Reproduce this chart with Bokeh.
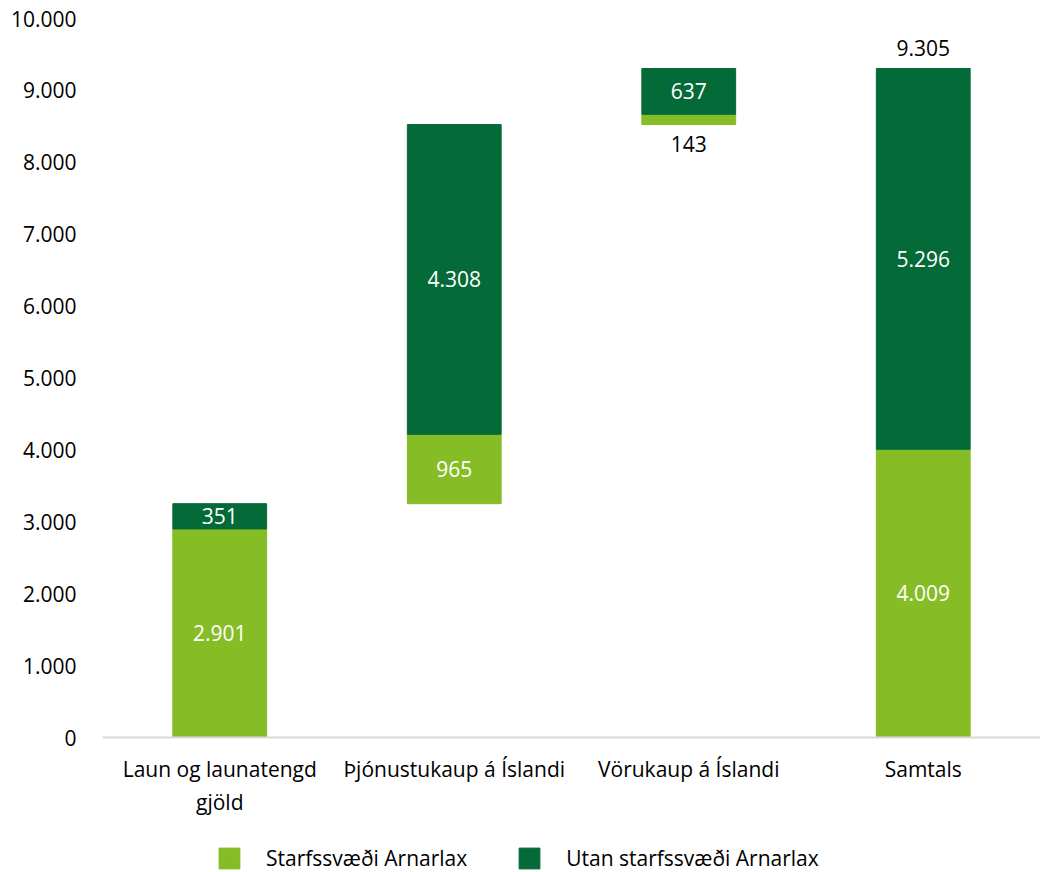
from bokeh.plotting import figure
from bokeh.layouts import column
from bokeh.models import ColumnDataSource, FactorRange, Legend, LegendItem, Range1d, FixedTicker, CustomJSTickFormatter
from bokeh.embed import file_html
from bokeh.resources import INLINE
from bokeh.core.properties import value

categories = ["Laun og launatengd\ngjöld", "Þjónustukaup á Íslandi", "Vörukaup á Íslandi", "Samtals"]
innan = [2901, 965, 143, 4009]
utan = [351, 4308, 637, 5296]
series_names = ["Starfssvæði Arnarlax", "Utan starfssvæði Arnarlax"]
y_ticks = [0, 1000, 2000, 3000, 4000, 5000, 6000, 7000, 8000, 9000, 10000]

LIGHT = "#86BC25"
DARK = "#046A38"
FONT = "Open Sans"
FS = "21px"

def fmt(v):
    return f"{v:,}".replace(",", ".")

# waterfall bases
base = []
run = 0
for i in range(len(categories)):
    if i == len(categories) - 1:
        base.append(0)
    else:
        base.append(run)
        run += innan[i] + utan[i]
l_bot = base
l_top = [b + v for b, v in zip(base, innan)]
d_bot = l_top
d_top = [b + v for b, v in zip(l_top, utan)]

p = figure(x_range=FactorRange(*categories, range_padding=0), y_range=Range1d(0, 10000),
           width=1040, height=843, output_backend="svg", toolbar_location=None,
           min_border_left=102, min_border_right=0, min_border_top=18, min_border_bottom=106)
p.outline_line_color = None
p.grid.visible = False
p.background_fill_color = "white"

src = ColumnDataSource(dict(x=categories, lb=l_bot, lt=l_top, db=d_bot, dt=d_top))
r1 = p.vbar(x="x", bottom="lb", top="lt", width=0.4, color=LIGHT, source=src)
r2 = p.vbar(x="x", bottom="db", top="dt", width=0.4, color=DARK, source=src)

# labels
lx, ly, lt, lc = [], [], [], []
for i, c in enumerate(categories):
    if innan[i] < 400:
        lx.append(c); ly.append(l_bot[i] - 270); lt.append(fmt(innan[i])); lc.append("black")
    else:
        lx.append(c); ly.append((l_bot[i] + l_top[i]) / 2); lt.append(fmt(innan[i])); lc.append("white")
    lx.append(c); ly.append((d_bot[i] + d_top[i]) / 2); lt.append(fmt(utan[i])); lc.append("white")
lx.append(categories[-1]); ly.append(d_top[-1] + 290); lt.append(fmt(d_top[-1])); lc.append("black")
p.text(x=lx, y=ly, text=lt, text_color=lc, text_align="center", text_baseline="middle",
       text_font=value(FONT), text_font_size=FS)

p.yaxis.ticker = FixedTicker(ticks=y_ticks)
p.yaxis.formatter = CustomJSTickFormatter(code="return tick.toLocaleString('de-DE');")
p.yaxis.axis_line_color = None
p.yaxis.major_tick_line_color = None
p.yaxis.minor_tick_line_color = None
p.yaxis.major_label_text_font = FONT
p.yaxis.major_label_text_font_size = FS
p.yaxis.major_label_text_color = "black"
p.yaxis.major_label_standoff = 20

p.xaxis.axis_line_color = "#D9D9D9"
p.xaxis.axis_line_width = 2
p.xaxis.major_tick_line_color = None
p.xaxis.minor_tick_line_color = None
p.xaxis.major_label_text_font = FONT
p.xaxis.major_label_text_font_size = FS
p.xaxis.major_label_text_color = "black"
p.xaxis.major_label_standoff = 11

# legend in its own strip below (same data, drawn outside this strip's visible range)
pl = figure(width=1040, height=29, x_range=FactorRange(*categories), y_range=Range1d(20000, 20001),
            output_backend="svg", toolbar_location=None, x_axis_type=None, y_axis_type=None,
            min_border=0)
pl.outline_line_color = None
pl.grid.visible = False
e1 = pl.vbar(x="x", bottom="lb", top="lt", width=0.4, color=LIGHT, source=src)
e2 = pl.vbar(x="x", bottom="db", top="dt", width=0.4, color=DARK, source=src)
legend = Legend(items=[LegendItem(label=series_names[0], renderers=[e1]),
                       LegendItem(label=series_names[1], renderers=[e2])],
                orientation="horizontal", location=(114, 0),
                glyph_width=26, glyph_height=26, spacing=49, label_standoff=24,
                label_text_font=FONT, label_text_font_size=FS, label_text_color="black",
                border_line_color=None, background_fill_alpha=0, margin=0, padding=0)
pl.add_layout(legend, "center")

layout = column(p, pl, spacing=0)
open("out.html", "w").write(file_html(layout, INLINE))
